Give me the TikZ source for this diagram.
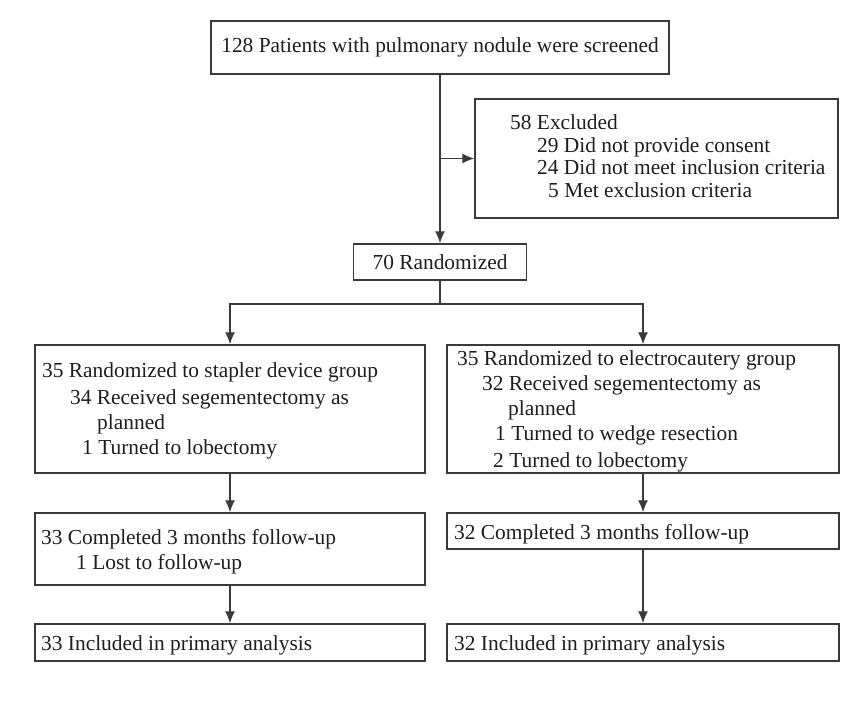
\documentclass[tikz,border=0pt]{standalone}
\usepackage{fontspec}
\setmainfont{Liberation Serif}
\usetikzlibrary{arrows.meta}
\definecolor{ln}{HTML}{3A3A3A}
\definecolor{tx}{HTML}{1E1E1E}
\begin{document}
\begin{tikzpicture}[x=1pt,y=-1pt,
  box/.style={draw=ln,line width=1.5pt,inner sep=0pt,minimum width=#1},
  txt/.style={inner sep=0pt,anchor=base west,text=tx,font=\fontsize{21.4}{24}\selectfont},
  ctxt/.style={inner sep=0pt,text=tx,font=\fontsize{21.4}{24}\selectfont},
  arr/.style={draw=ln,line width=1.3pt,-{Latex[length=12pt,width=10pt]}},
  lnk/.style={draw=ln,line width=1.3pt}]
\useasboundingbox[fill=white] (0,0) rectangle (856,706);
% boxes
\node[box=458pt,minimum height=53pt] (top) at (440,47.5) {};
\node[box=363pt,minimum height=119pt] (excl) at (656.5,158.5) {};
\node[box=173pt,minimum height=36pt] (rand) at (440,262) {};
\node[box=390pt,minimum height=128pt] (L1) at (230,409) {};
\node[box=392pt,minimum height=128pt] (R1) at (643,409) {};
\node[box=390pt,minimum height=72pt] (L2) at (230,549) {};
\node[box=392pt,minimum height=36pt] (R2) at (643,531) {};
\node[box=390pt,minimum height=37pt] (L3) at (230,642.5) {};
\node[box=392pt,minimum height=37pt] (R3) at (643,642.5) {};
% texts
\node[ctxt] (ttop) at (top.center) {128 Patients with pulmonary nodule were screened};
\node[ctxt] (trand) at (rand.center) {70 Randomized};
\node[txt] (e1) at (510,129) {58 Excluded};
\node[txt] (e2) at (537,152) {29 Did not provide consent};
\node[txt] (e3) at (537,174) {24 Did not meet inclusion criteria};
\node[txt] (e4) at (548,197) {5 Met exclusion criteria};
\node[txt] (l1a) at (42,377) {35 Randomized to stapler device group};
\node[txt] (l1b) at (70,404) {34 Received segementectomy as};
\node[txt] (l1c) at (97,429) {planned};
\node[txt] (l1d) at (82,454) {1 Turned to lobectomy};
\node[txt] (r1a) at (457,365) {35 Randomized to electrocautery group};
\node[txt] (r1b) at (482,390) {32 Received segementectomy as};
\node[txt] (r1c) at (508,415) {planned};
\node[txt] (r1d) at (495,440) {1 Turned to wedge resection};
\node[txt] (r1e) at (493,467) {2 Turned to lobectomy};
\node[txt] (l2a) at (41,544) {33 Completed 3 months follow-up};
\node[txt] (l2b) at (76,569) {1 Lost to follow-up};
\node[txt] (r2a) at (454,539) {32 Completed 3 months follow-up};
\node[txt] (l3a) at (41,650) {33 Included in primary analysis};
\node[txt] (r3a) at (454,650) {32 Included in primary analysis};
% connectors
\coordinate (br) at (top.south |- excl.west);
\draw[arr] (top.south) -- (rand.north);
\draw[arr] (br) -- (excl.west);
\coordinate (split) at (440,304);
\draw[lnk] (rand.south) -- (split);
\draw[arr] (split) -| (L1.north);
\draw[arr] (split) -| (R1.north);
\draw[arr] (L1.south) -- (L2.north);
\draw[arr] (R1.south) -- (R2.north);
\draw[arr] (L2.south) -- (L3.north);
\draw[arr] (R2.south) -- (R3.north);
\end{tikzpicture}
\end{document}
